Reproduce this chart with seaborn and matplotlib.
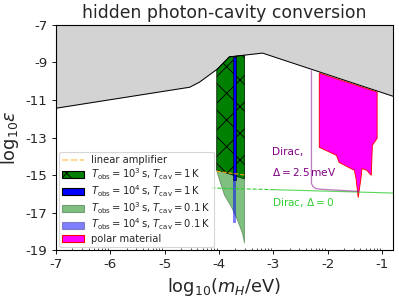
import numpy as np
import matplotlib
matplotlib.use("Agg")
import matplotlib.pyplot as plt
import seaborn as sns
from matplotlib.patches import Patch
from matplotlib.lines import Line2D

# excluded region (gray), upper boundary
gray_x = [-7, -4.54, -4.36, -4.03, -3.81, -3.2, -0.8]
gray_y = [-11.44, -10.32, -10.05, -9.35, -8.7, -8.5, -10.8]

# cavity, T_obs=1e3 s, T_cav=1 K (hatched)
cav1_x = [-4.04, -3.81, -3.53, -3.53, -4.04]
cav1_y = [-9.38, -8.7, -8.62, -15.21, -14.73]

# cavity, T_obs=1e3 s, T_cav=0.1 K
cav2_x = [-4.04, -3.81, -3.53, -3.53, -3.57, -3.66, -3.77, -3.90, -3.99, -4.046]
cav2_y = [-9.38, -8.7, -8.62, -18.63, -18.09, -17.4, -16.71, -16.07, -15.27, -14.73]

# cavity, T_obs=1e4 s (narrow strip)
strip_x = [-3.75, -3.69]
strip_top = [-8.7, -8.7]
strip_1K = [-15.27, -15.27]
strip_01K = [-17.56, -17.56]

# linear amplifier
amp_x = [-4.04, -3.53]
amp_y = [-14.8, -15.0]

# Dirac, Delta = 0
dirac0_x = [-4.14, -3.0, -0.8]
dirac0_y = [-15.69, -15.78, -15.96]

# Dirac, Delta = 2.5 meV
dirac25_x = [-2.30, -2.30, -2.27, -2.22, -2.12, -1.44]
dirac25_y = [-9.45, -15.45, -15.62, -15.72, -15.76, -15.87]

# polar material
polar_x = [-2.156, -1.092, -1.092, -1.18, -1.20, -1.28, -1.37, -1.39, -1.44,
           -1.48, -1.51, -1.79, -1.84, -2.156]
polar_y = [-9.57, -10.58, -13.04, -13.42, -15.02, -14.75, -14.65, -15.18, -16.2,
           -15.18, -14.75, -14.33, -13.95, -13.52]

sns.set_style("ticks")
plt.rcParams['axes.unicode_minus'] = False
plt.rcParams['hatch.linewidth'] = 0.8

fig, ax = plt.subplots(figsize=(399 / 80, 297 / 80), dpi=80)
fig.subplots_adjust(left=0.140, right=0.985, top=0.916, bottom=0.158)

ax.fill_between(gray_x, gray_y, -7, color='lightgray', linewidth=0)
ax.plot(gray_x, gray_y, color='black', lw=0.9)

ax.fill(cav2_x, cav2_y, facecolor='green', edgecolor='#2a5a2a', alpha=0.5, lw=0.8)
ax.fill(cav1_x, cav1_y, facecolor='green', edgecolor='black', hatch='x', lw=0.5)
ax.fill_between(strip_x, strip_1K, strip_01K, color='blue', alpha=0.5, lw=0)
ax.fill_between(strip_x, strip_top, strip_1K, facecolor='blue', edgecolor='black', lw=0.5)

ax.plot(amp_x, amp_y, color='orange', ls='--', lw=1)

sns.lineplot(x=dirac0_x[:2], y=dirac0_y[:2], color='limegreen', ls='--', lw=1, ax=ax)
sns.lineplot(x=dirac0_x[1:], y=dirac0_y[1:], color='limegreen', lw=1, alpha=0.8, ax=ax)
ax.plot(dirac25_x, dirac25_y, color='purple', alpha=0.5, lw=1.2)

ax.fill(polar_x, polar_y, facecolor='magenta', edgecolor='red', lw=0.8)

ax.text(-3.02, -13.77, 'Dirac,', color='purple', fontsize=9.5, va='center')
ax.text(-3.02, -14.84, r'$\Delta = 2.5\,$meV', color='purple', fontsize=9.5, va='center')
ax.text(-3.02, -16.44, r'Dirac, $\Delta = 0$', color='limegreen', fontsize=9.5, va='center')

ax.set_xlim(-7, -0.8)
ax.set_ylim(-19, -7)
ax.set_xticks(range(-7, 0))
ax.set_yticks(range(-19, -6, 2))
minors = [d + np.log10(k) for d in range(-7, -1) for k in range(2, 10)]
ax.set_xticks([m for m in minors if m < -0.8], minor=True)
ax.tick_params(axis='both', which='major', labelsize=12, length=4, color='black')
ax.tick_params(axis='x', which='minor', direction='in', length=2, width=0.6, color='black')
for s in ax.spines.values():
    s.set_color('black')
    s.set_visible(True)
    s.set_linewidth(1)

ax.set_title('hidden photon-cavity conversion', fontsize=15.5)
ax.set_xlabel(r'log$_{10}(m_H$/eV)', fontsize=16)
ax.set_ylabel(r'log$_{10}\epsilon$', fontsize=16)

handles = [
    Line2D([0], [0], color='orange', ls='--', alpha=0.5),
    Patch(facecolor='green', edgecolor='black', hatch='x'),
    Patch(facecolor='blue', edgecolor='black'),
    Patch(facecolor='green', edgecolor='#2a5a2a', alpha=0.5),
    Patch(facecolor='blue', edgecolor='#3a3a8a', alpha=0.5),
    Patch(facecolor='magenta', edgecolor='red'),
]
labels = [
    'linear amplifier',
    r'$T_{\rm obs}=10^3\,$s, $T_{\rm cav}=1\,$K',
    r'$T_{\rm obs}=10^4\,$s, $T_{\rm cav}=1\,$K',
    r'$T_{\rm obs}=10^3\,$s, $T_{\rm cav}=0.1\,$K',
    r'$T_{\rm obs}=10^4\,$s, $T_{\rm cav}=0.1\,$K',
    'polar material',
]
ax.legend(handles, labels, loc='lower left', fontsize=9, borderaxespad=0.3,
          borderpad=0.35, labelspacing=0.12, handlelength=2.2, handletextpad=0.7)

fig.savefig('out.png', dpi=80)
